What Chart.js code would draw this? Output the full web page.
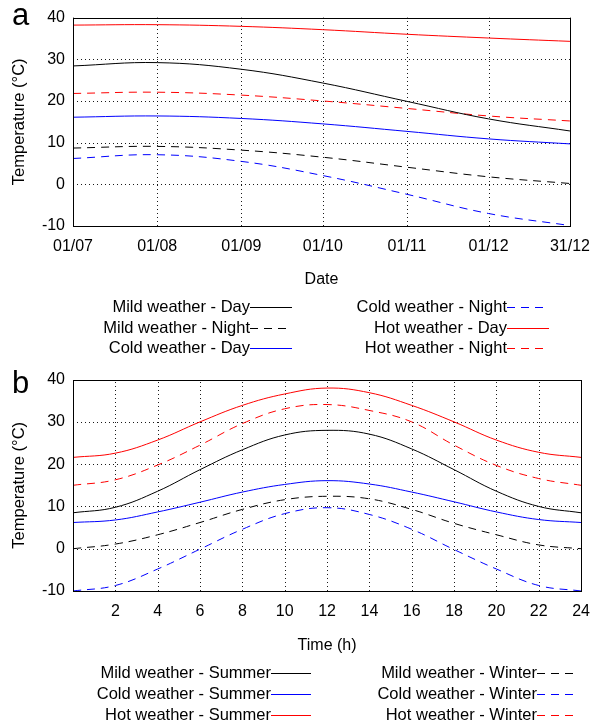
<!DOCTYPE html>
<html lang="en">
<head>
<meta charset="UTF-8">
<title>Temperature profiles</title>
<script src="https://cdn.jsdelivr.net/npm/chart.js@4.4.1/dist/chart.umd.min.js"></script>
<style>
  body { margin: 0; background: #fff; }
  canvas { display: block; }
</style>
</head>
<body>
<canvas id="chartA" width="601" height="362"></canvas>
<canvas id="chartB" width="601" height="363"></canvas>
<script>
// panel a : Jul -> Dec, x = days since 01/07
const dayTicks = [0, 31, 62, 92, 123, 153, 183];
const dateLabels = ['01/07', '01/08', '01/09', '01/10', '01/11', '01/12', '31/12'];
const days = [0, 31, 62, 92, 123, 153, 183];
const mildDay   = [28.4, 29.2, 27.6, 24.3, 19.9, 15.7, 12.8];
const mildNight = [8.7, 9.1, 8.2, 6.5, 4.1, 1.8, 0.2];
const coldDay   = [16.1, 16.4, 15.8, 14.5, 12.7, 10.9, 9.7];
const coldNight = [6.2, 7.1, 5.5, 2.1, -2.4, -7.0, -9.9];
const hotDay    = [38.2, 38.3, 37.9, 37.1, 36.0, 35.1, 34.3];
const hotNight  = [21.8, 22.1, 21.4, 20.0, 18.2, 16.4, 15.2];

// panel b : daily profile
const hours = [0, 2, 4, 6, 8, 10, 12, 14, 16, 18, 20, 22, 24];
const mildSummer = [8.5, 9.8, 13.6, 18.7, 23.4, 26.9, 28.0, 27.1, 23.6, 18.7, 13.6, 10.0, 8.5];
const coldSummer = [6.2, 6.8, 8.7, 11.0, 13.4, 15.2, 16.1, 15.3, 13.4, 11.1, 8.7, 6.9, 6.2];
const hotSummer  = [21.6, 22.6, 25.7, 30.0, 33.9, 36.6, 38.0, 36.9, 33.9, 30.0, 25.7, 22.8, 21.6];
const mildWinter = [0.0, 1.1, 3.3, 6.2, 9.3, 11.6, 12.4, 11.8, 9.3, 6.0, 3.3, 0.9, 0.0];
const coldWinter = [-10.0, -8.7, -4.8, -0.1, 4.6, 8.3, 9.7, 8.1, 4.6, -0.2, -4.8, -8.7, -10.0];
const hotWinter  = [15.0, 16.3, 19.8, 24.5, 29.6, 33.1, 34.1, 32.7, 30.0, 24.5, 19.7, 16.6, 15.0];

const tempTicks = [-10, 0, 10, 20, 30, 40];

Chart.defaults.font.family = '"Liberation Sans", Arial, sans-serif';
Chart.defaults.font.size = 16;
Chart.defaults.color = '#000';

const DASH = [8, 6];

function series(label, xs, ys, color, dashed) {
    return {
        label: label,
        data: xs.map((x, i) => ({ x: x, y: ys[i] })),
        borderColor: color,
        borderWidth: 1,
        borderDash: dashed ? DASH : [],
        pointRadius: 0,
        tension: 0.4,
        fill: false
    };
}

// dotted grid like gnuplot (drawn under the lines)
const dotGrid = {
    id: 'dotGrid',
    beforeDatasetsDraw(chart) {
        const ctx = chart.ctx;
        const a = chart.chartArea;
        ctx.save();
        ctx.strokeStyle = 'rgba(0,0,0,0.9)';
        ctx.lineWidth = 1;
        ctx.setLineDash([1, 3]);
        chart.scales.x.ticks.forEach(t => {
            const px = Math.round(chart.scales.x.getPixelForValue(t.value)) + 0.5;
            ctx.beginPath();
            ctx.moveTo(px, a.bottom);
            ctx.lineTo(px, a.top);
            ctx.stroke();
        });
        chart.scales.y.ticks.forEach(t => {
            const py = Math.round(chart.scales.y.getPixelForValue(t.value)) + 0.5;
            ctx.beginPath();
            ctx.moveTo(a.left, py);
            ctx.lineTo(a.right, py);
            ctx.stroke();
        });
        ctx.restore();
    }
};

// frame, panel letter and key (label text then line sample)
const framePlugin = {
    id: 'frameKey',
    afterDraw(chart, args, opts) {
        const ctx = chart.ctx;
        const a = chart.chartArea;
        ctx.save();
        ctx.strokeStyle = '#000';
        ctx.lineWidth = 1;
        ctx.setLineDash([]);
        ctx.strokeRect(Math.round(a.left) + 0.5, Math.round(a.top) + 0.5,
                       Math.round(a.right - a.left), Math.round(a.bottom - a.top));

        ctx.font = '31px "Liberation Sans", Arial, sans-serif';
        ctx.fillStyle = '#000';
        ctx.textAlign = 'left';
        ctx.textBaseline = 'alphabetic';
        ctx.fillText(opts.letter, 12, opts.letterY);

        ctx.font = '16.5px "Liberation Sans", Arial, sans-serif';
        ctx.textAlign = 'right';
        ctx.textBaseline = 'middle';
        chart.data.datasets.forEach((ds, i) => {
            const col = i < 3 ? 0 : 1;
            const y = opts.rows[i % 3];
            const xe = opts.textEnds[col];
            ctx.fillStyle = '#000';
            ctx.fillText(ds.label, xe, y);
            ctx.beginPath();
            ctx.strokeStyle = ds.borderColor;
            ctx.setLineDash(ds.borderDash);
            ctx.moveTo(xe, Math.round(y) + 0.5);
            ctx.lineTo(xe + opts.lineLen, Math.round(y) + 0.5);
            ctx.stroke();
        });
        ctx.restore();
    }
};

function baseOptions(o) {
    return {
        responsive: false,
        animation: false,
        layout: { padding: { left: 0, top: o.top, right: o.right, bottom: 0 } },
        plugins: {
            legend: { display: false },
            tooltip: { enabled: false },
            frameKey: o.key
        },
        scales: {
            x: {
                type: 'linear',
                min: o.xmin,
                max: o.xmax,
                grid: { display: false, drawTicks: false },
                border: { display: false },
                ticks: { padding: 11, maxRotation: 0, autoSkip: false, callback: o.xLabel },
                afterBuildTicks: o.xTicks,
                afterFit: s => { s.height = o.xHeight; },
                title: { display: true, text: o.xTitle, padding: { top: 0, bottom: o.titlePad } }
            },
            y: {
                min: -10,
                max: 40,
                grid: { display: false, drawTicks: false },
                border: { display: false },
                ticks: { padding: 8 },
                afterBuildTicks: s => { s.ticks = tempTicks.map(v => ({ value: v })); },
                afterFit: s => { s.width = 73; },
                title: { display: true, text: 'Temperature (°C)', font: { size: 16.5 }, padding: { top: 10, bottom: 0 } }
            }
        }
    };
}

new Chart(document.getElementById('chartA'), {
    type: 'line',
    data: {
        datasets: [
            series('Mild weather - Day', days, mildDay, '#000000', false),
            series('Mild weather - Night', days, mildNight, '#000000', true),
            series('Cold weather - Day', days, coldDay, '#0000ff', false),
            series('Cold weather - Night', days, coldNight, '#0000ff', true),
            series('Hot weather - Day', days, hotDay, '#ff0000', false),
            series('Hot weather - Night', days, hotNight, '#ff0000', true)
        ]
    },
    options: baseOptions({
        top: 13, right: 22, xmin: 0, xmax: 183, xHeight: 136, titlePad: 73, xTitle: 'Date',
        xTicks: s => { s.ticks = dayTicks.map(v => ({ value: v })); },
        xLabel: v => dateLabels[dayTicks.indexOf(v)],
        key: { letter: 'a', letterY: 25, textEnds: [250, 507], rows: [307, 328, 348], lineLen: 42 }
    }),
    plugins: [dotGrid, framePlugin]
});

new Chart(document.getElementById('chartB'), {
    type: 'line',
    data: {
        datasets: [
            series('Mild weather - Summer', hours, mildSummer, '#000000', false),
            series('Cold weather - Summer', hours, coldSummer, '#0000ff', false),
            series('Hot weather - Summer', hours, hotSummer, '#ff0000', false),
            series('Mild weather - Winter', hours, mildWinter, '#000000', true),
            series('Cold weather - Winter', hours, coldWinter, '#0000ff', true),
            series('Hot weather - Winter', hours, hotWinter, '#ff0000', true)
        ]
    },
    options: baseOptions({
        top: 15, right: 17, xmin: 0, xmax: 24, xHeight: 134, titlePad: 70, xTitle: 'Time (h)',
        xTicks: s => { s.ticks = hours.map(v => ({ value: v })); },
        xLabel: v => (v === 0 ? '' : v),
        key: { letter: 'b', letterY: 31, textEnds: [271, 537], rows: [311, 332, 353], lineLen: 40 }
    }),
    plugins: [dotGrid, framePlugin]
});
</script>
</body>
</html>
